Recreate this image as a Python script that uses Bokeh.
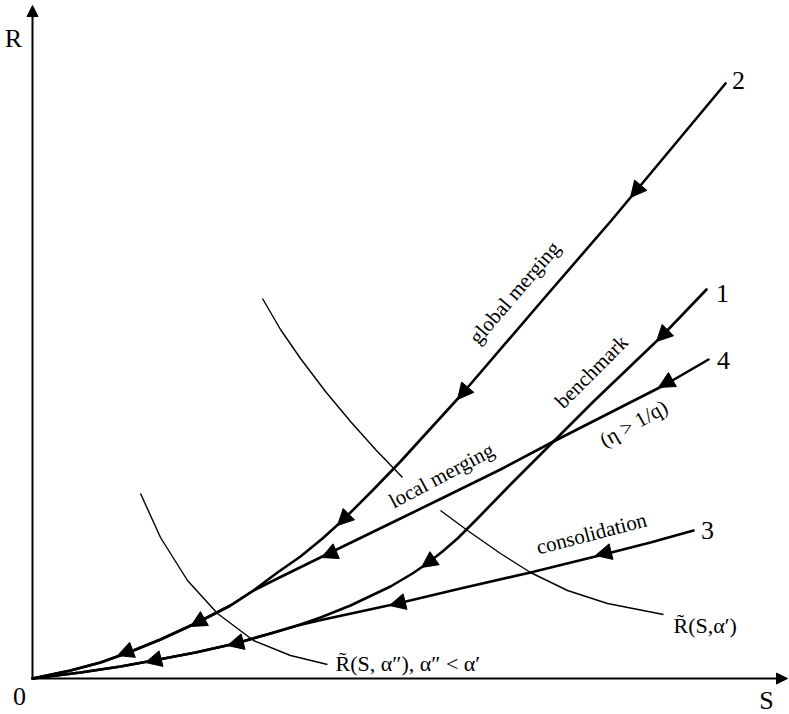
from bokeh.plotting import figure
from bokeh.models import Range1d, Arrow, NormalHead, ColumnDataSource
from bokeh.core.properties import value
from bokeh.embed import file_html
from bokeh.resources import INLINE

# ---- data (S, R) ----
# curve 2: global merging
c2_S = [0.00, 0.38, 0.68, 0.96, 1.28, 1.65, 1.98, 2.21, 2.45, 2.68, 2.90, 3.11, 3.40, 3.68, 4.30, 5.08, 5.78, 6.93]
c2_R = [0.00, 0.08, 0.16, 0.26, 0.39, 0.56, 0.73, 0.88, 1.06, 1.22, 1.40, 1.59, 1.88, 2.17, 2.85, 3.76, 4.57, 5.95]
# curve 4: local merging (eta > 1/q)
c4_S = [0.00, 0.38, 0.68, 0.96, 1.28, 1.65, 1.98, 2.21, 2.45, 2.96, 3.68, 4.11, 4.68, 5.21, 5.78, 6.33, 6.76]
c4_R = [0.00, 0.08, 0.16, 0.26, 0.39, 0.56, 0.73, 0.88, 1.00, 1.25, 1.60, 1.81, 2.09, 2.37, 2.66, 2.94, 3.19]
# curve 1: benchmark
c1_S = [0.00, 0.48, 0.88, 1.21, 1.63, 2.03, 2.38, 2.65, 2.88, 3.18, 3.58, 3.80, 3.96, 4.10, 4.25, 4.45, 4.78, 5.21, 5.61, 6.30, 6.74]
c1_R = [0.00, 0.06, 0.12, 0.18, 0.26, 0.35, 0.45, 0.53, 0.61, 0.73, 0.92, 1.05, 1.16, 1.27, 1.40, 1.60, 1.94, 2.37, 2.77, 3.43, 3.89]
# curve 3: consolidation
c3_S = [0.00, 0.48, 0.88, 1.21, 1.63, 2.03, 2.38, 2.65, 2.91, 3.65, 4.28, 4.98, 5.71, 6.18, 6.61]
c3_R = [0.00, 0.06, 0.12, 0.18, 0.26, 0.35, 0.45, 0.53, 0.59, 0.75, 0.90, 1.06, 1.24, 1.36, 1.48]
# iso-curve R~(S, alpha') (two pieces, interrupted at the label)
a1_S = [2.30, 2.48, 2.68, 2.93, 3.18, 3.43, 3.70]
a1_R = [3.80, 3.49, 3.20, 2.87, 2.57, 2.29, 2.01]
a1b_S = [4.08, 4.35, 4.68, 4.98, 5.35, 5.75, 6.31]
a1b_R = [1.68, 1.48, 1.25, 1.06, 0.88, 0.75, 0.64]
# iso-curve R~(S, alpha'')
a2_S = [1.08, 1.28, 1.55, 1.85, 2.21, 2.58, 2.95]
a2_R = [1.85, 1.41, 0.98, 0.65, 0.38, 0.23, 0.14]

# direction arrows on the curves (tail -> tip, pointing toward the origin)
arr_tail_S = [6.08, 4.35, 3.17, 1.72, 1.01, 6.40, 3.03, 6.36, 4.03, 5.79, 3.73, 2.11, 1.29]
arr_tail_R = [4.93, 2.91, 1.65, 0.60, 0.29, 2.99, 1.27, 3.49, 1.21, 1.27, 0.77, 0.37, 0.20]
arr_tip_S = [5.98, 4.25, 3.05, 1.58, 0.85, 6.26, 2.89, 6.24, 3.89, 5.63, 3.57, 1.95, 1.13]
arr_tip_R = [4.81, 2.79, 1.53, 0.52, 0.23, 2.91, 1.21, 3.37, 1.11, 1.23, 0.73, 0.33, 0.16]

curve_numbers = ["2", "1", "4", "3"]
path_labels = ["global merging", "benchmark", "local merging", "(η > 1/q)", "consolidation"]
iso_label_1 = "R\u0303(S,α′)"
iso_label_2 = "R\u0303(S, α″),  α″ < α′"

FONT = value("Liberation Serif")

p = figure(width=789, height=714, output_backend="svg", toolbar_location=None,
           x_range=Range1d(-0.32, 7.57), y_range=Range1d(-0.36, 6.78),
           x_axis_type=None, y_axis_type=None, min_border=0)
p.outline_line_color = None
p.background_fill_color = "white"
p.border_fill_color = "white"

# axes with arrowheads
p.add_layout(Arrow(x_start=0, y_start=0, x_end=0, y_end=6.73, line_width=2, line_color="black",
                   end=NormalHead(size=11, fill_color="black", line_color="black", line_width=1)))
p.add_layout(Arrow(x_start=0, y_start=0, x_end=7.55, y_end=0, line_width=2, line_color="black",
                   end=NormalHead(size=11, fill_color="black", line_color="black", line_width=1)))

# main curves
for xs, ys in [(c2_S, c2_R), (c4_S, c4_R), (c1_S, c1_R), (c3_S, c3_R)]:
    p.line(xs, ys, line_color="black", line_width=2.6, line_join="round", line_cap="round")

# iso curves
for xs, ys in [(a1_S, a1_R), (a1b_S, a1b_R), (a2_S, a2_R)]:
    p.line(xs, ys, line_color="black", line_width=1.4, line_join="round")

# arrowheads
asrc = ColumnDataSource(dict(xs=arr_tail_S, ys=arr_tail_R, xe=arr_tip_S, ye=arr_tip_R))
p.add_layout(Arrow(source=asrc, x_start="xs", y_start="ys", x_end="xe", y_end="ye",
                   line_alpha=0,
                   end=NormalHead(size=16, fill_color="black", line_color="black", line_width=1)))

# axis labels
p.text(x=[-0.19, -0.13, 7.34], y=[6.40, -0.18, -0.22], text=["R", "0", "S"],
       text_font=FONT, text_font_size="26px", text_align="center", text_baseline="middle",
       text_color="black")

# curve numbers at the curve ends
p.text(x=[7.06, 6.90, 6.91, 6.75], y=[5.98, 3.85, 3.18, 1.48], text=curve_numbers,
       text_font=FONT, text_font_size="26px", text_align="center", text_baseline="middle",
       text_color="black")

# labels along the paths
p.text(x=[4.82, 5.59, 4.09, 6.01, 5.59], y=[3.86, 3.07, 2.03, 2.55, 1.45], text=path_labels,
       angle=[49.4, 45.0, 28.0, 29.5, 14.6], angle_units="deg",
       text_font=FONT, text_font_size="21px", text_align="center", text_baseline="middle",
       text_color="black")

# iso-curve labels
p.text(x=[6.41, 3.03], y=[0.53, 0.15], text=[iso_label_1, iso_label_2],
       text_font=FONT, text_font_size="22px", text_align="left", text_baseline="middle",
       text_color="black")

open("out.html", "w").write(file_html(p, INLINE))
